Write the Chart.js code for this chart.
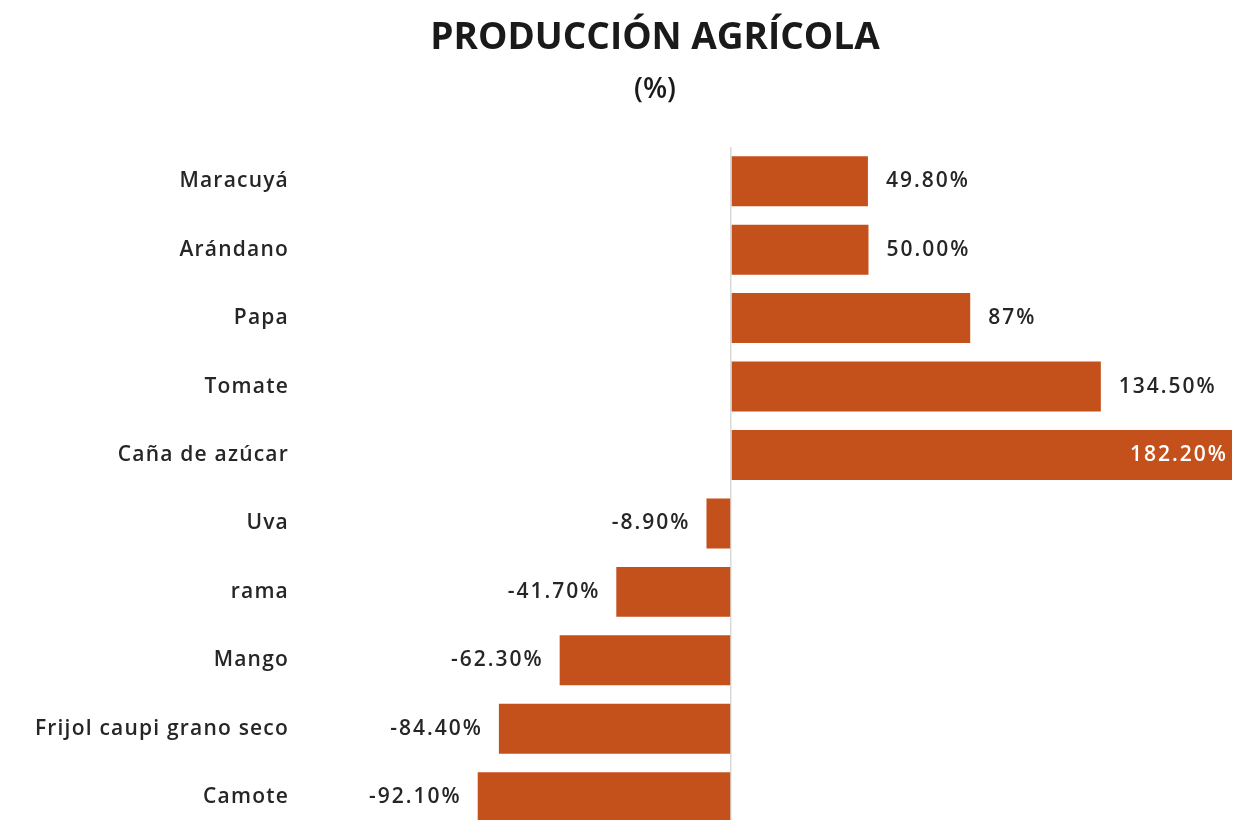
<!DOCTYPE html>
<html>
<head>
<meta charset="utf-8">
<script src="https://cdn.jsdelivr.net/npm/chart.js@4.4.1/dist/chart.umd.min.js"></script>
<style>
  html, body { margin: 0; padding: 0; background: #fff; overflow: hidden; }
  canvas { display: block; }
</style>
</head>
<body>
<canvas id="chart" width="1237" height="846"></canvas>
<script>
const categories = ["Maracuyá", "Arándano", "Papa", "Tomate", "Caña de azúcar", "Uva", "rama", "Mango", "Frijol caupi grano seco", "Camote"];
const values = [49.8, 50.0, 87, 134.5, 182.2, -8.9, -41.7, -62.3, -84.4, -92.1];
const valueLabels = ["49.80%", "50.00%", "87%", "134.50%", "182.20%", "-8.90%", "-41.70%", "-62.30%", "-84.40%", "-92.10%"];
const titleText = "PRODUCCIÓN AGRÍCOLA";
const subtitleText = "(%)";

const barColor = "#c4501b";
const textColor = "#262626";
const fontFamily = "'Open Sans', Lato, sans-serif";
const spacing = "1.2px";

// el texto del original sale estirado: se compensa con letterSpacing
const labelsPlugin = {
  id: "valueLabels",
  beforeDraw(chart) {
    chart.ctx.letterSpacing = spacing;
  },
  afterDatasetsDraw(chart) {
    const ctx = chart.ctx;
    const meta = chart.getDatasetMeta(0);
    const maxVal = Math.max(...values);
    ctx.save();
    ctx.letterSpacing = "2px";
    ctx.font = "600 21px " + fontFamily;
    ctx.textBaseline = "middle";
    meta.data.forEach((bar, i) => {
      const v = values[i];
      if (v === maxVal) {
        ctx.fillStyle = "#fff";
        ctx.textAlign = "right";
        ctx.fillText(valueLabels[i], bar.x - 4, bar.y);
      } else if (v >= 0) {
        ctx.fillStyle = textColor;
        ctx.textAlign = "left";
        ctx.fillText(valueLabels[i], bar.x + 18, bar.y);
      } else {
        ctx.fillStyle = textColor;
        ctx.textAlign = "right";
        ctx.fillText(valueLabels[i], bar.x - 16, bar.y);
      }
    });
    ctx.textAlign = "center";
    ctx.fillStyle = "#1a1a1a";
    ctx.letterSpacing = "0px";
    ctx.font = "bold 37px " + fontFamily;
    ctx.fillText(titleText, 655, 38);
    ctx.font = "600 28px " + fontFamily;
    ctx.fillText(subtitleText, 655, 90);
    ctx.restore();
  }
};

new Chart(document.getElementById("chart"), {
  type: "bar",
  data: {
    labels: categories,
    datasets: [{
      data: values,
      backgroundColor: barColor,
      barPercentage: 0.73,
      categoryPercentage: 1
    }]
  },
  options: {
    indexAxis: "y",
    responsive: false,
    animation: false,
    layout: { padding: { top: 147, bottom: 3, right: 5, left: 0 } },
    plugins: { legend: { display: false }, tooltip: { enabled: false } },
    scales: {
      x: {
        min: -160,
        max: 182.2,
        afterFit: s => { s.height = 0; },
        ticks: { display: false, stepSize: 20 },
        border: { display: false },
        grid: {
          drawTicks: false,
          color: c => (c.tick && c.tick.value === 0 ? "#d9d9d9" : "transparent"),
          lineWidth: 1.5
        }
      },
      y: {
        grid: { display: false, drawTicks: false },
        border: { display: false },
        afterFit: s => { s.width = 291; },
        ticks: {
          padding: 2,
          color: textColor,
          font: { family: fontFamily, size: 21, weight: "600" }
        }
      }
    }
  },
  plugins: [labelsPlugin]
});
</script>
</body>
</html>
